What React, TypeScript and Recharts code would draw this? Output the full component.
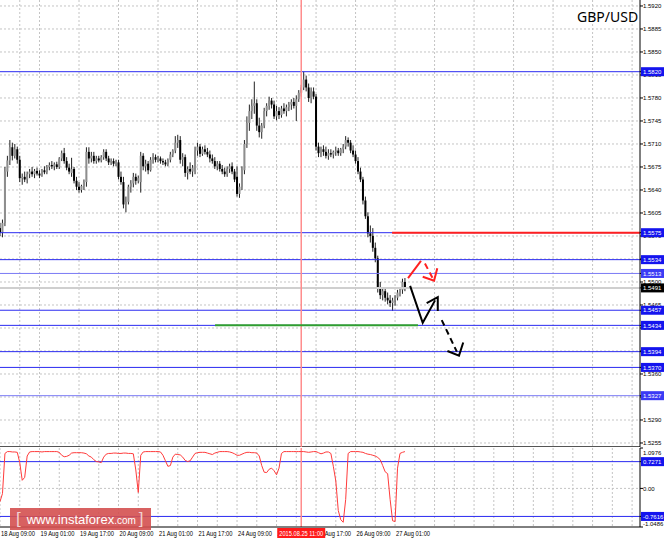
import React from 'react'
import { ComposedChart, Bar, Line, XAxis, YAxis, CartesianGrid, ReferenceLine } from 'recharts'

// hourly candles GBP/USD, 18 Aug 09:00 -> 27 Aug 05:00  [open, high, low, close]
const ohlc: [number, number, number, number][] = [
  [1.5582, 1.5590, 1.5570, 1.5575], [1.5575, 1.5595, 1.5568, 1.5590], [1.5590, 1.5675, 1.5585, 1.5668], [1.5668, 1.5692, 1.5660, 1.5685],
  [1.5685, 1.5716, 1.5678, 1.5705], [1.5705, 1.5712, 1.5685, 1.5692], [1.5692, 1.5710, 1.5688, 1.5702], [1.5702, 1.5706, 1.5680, 1.5686],
  [1.5686, 1.5692, 1.5652, 1.5658], [1.5658, 1.5665, 1.5648, 1.5660], [1.5660, 1.5668, 1.5652, 1.5656], [1.5656, 1.5668, 1.5650, 1.5664],
  [1.5664, 1.5672, 1.5658, 1.5668], [1.5668, 1.5675, 1.5660, 1.5664], [1.5664, 1.5672, 1.5658, 1.5669], [1.5669, 1.5674, 1.5662, 1.5665],
  [1.5665, 1.5670, 1.5658, 1.5662], [1.5662, 1.5672, 1.5660, 1.5670], [1.5670, 1.5676, 1.5664, 1.5667], [1.5667, 1.5678, 1.5664, 1.5675],
  [1.5675, 1.5682, 1.5670, 1.5678], [1.5678, 1.5684, 1.5672, 1.5676], [1.5676, 1.5682, 1.5670, 1.5679], [1.5679, 1.5683, 1.5672, 1.5675],
  [1.5675, 1.5690, 1.5672, 1.5688], [1.5688, 1.5700, 1.5684, 1.5696], [1.5696, 1.5704, 1.5680, 1.5684], [1.5684, 1.5690, 1.5670, 1.5674],
  [1.5674, 1.5680, 1.5664, 1.5668], [1.5666, 1.5689, 1.5660, 1.5672], [1.5672, 1.5675, 1.5650, 1.5654], [1.5654, 1.5660, 1.5640, 1.5645],
  [1.5645, 1.5652, 1.5636, 1.5640], [1.5640, 1.5648, 1.5636, 1.5646], [1.5646, 1.5656, 1.5640, 1.5652], [1.5652, 1.5705, 1.5645, 1.5698],
  [1.5698, 1.5705, 1.5680, 1.5688], [1.5688, 1.5698, 1.5682, 1.5692], [1.5692, 1.5698, 1.5680, 1.5684], [1.5684, 1.5692, 1.5680, 1.5688],
  [1.5688, 1.5692, 1.5682, 1.5685], [1.5685, 1.5693, 1.5682, 1.5690], [1.5690, 1.5702, 1.5686, 1.5698], [1.5698, 1.5702, 1.5684, 1.5688],
  [1.5688, 1.5692, 1.5678, 1.5682], [1.5682, 1.5688, 1.5678, 1.5684], [1.5684, 1.5688, 1.5676, 1.5680], [1.5680, 1.5686, 1.5676, 1.5682],
  [1.5682, 1.5686, 1.5656, 1.5660], [1.5660, 1.5668, 1.5648, 1.5652], [1.5652, 1.5660, 1.5612, 1.5618], [1.5618, 1.5630, 1.5606, 1.5622],
  [1.5622, 1.5648, 1.5618, 1.5645], [1.5645, 1.5655, 1.5636, 1.5650], [1.5650, 1.5666, 1.5644, 1.5660], [1.5660, 1.5665, 1.5648, 1.5654],
  [1.5654, 1.5662, 1.5650, 1.5658], [1.5652, 1.5698, 1.5636, 1.5692], [1.5692, 1.5696, 1.5670, 1.5676], [1.5676, 1.5686, 1.5668, 1.5680],
  [1.5680, 1.5684, 1.5664, 1.5670], [1.5670, 1.5690, 1.5668, 1.5686], [1.5686, 1.5696, 1.5680, 1.5690], [1.5690, 1.5694, 1.5682, 1.5686],
  [1.5686, 1.5692, 1.5682, 1.5688], [1.5688, 1.5691, 1.5680, 1.5684], [1.5684, 1.5688, 1.5678, 1.5682], [1.5682, 1.5686, 1.5676, 1.5679],
  [1.5679, 1.5688, 1.5676, 1.5686], [1.5686, 1.5698, 1.5682, 1.5694], [1.5694, 1.5702, 1.5690, 1.5700], [1.5700, 1.5722, 1.5696, 1.5712],
  [1.5712, 1.5724, 1.5704, 1.5716], [1.5716, 1.5722, 1.5680, 1.5686], [1.5686, 1.5696, 1.5676, 1.5690], [1.5690, 1.5694, 1.5660, 1.5666],
  [1.5666, 1.5676, 1.5656, 1.5672], [1.5672, 1.5682, 1.5664, 1.5668], [1.5668, 1.5678, 1.5660, 1.5674], [1.5668, 1.5706, 1.5664, 1.5700],
  [1.5700, 1.5712, 1.5692, 1.5706], [1.5706, 1.5710, 1.5690, 1.5695], [1.5695, 1.5706, 1.5692, 1.5702], [1.5702, 1.5708, 1.5694, 1.5698],
  [1.5698, 1.5704, 1.5690, 1.5694], [1.5694, 1.5700, 1.5682, 1.5688], [1.5688, 1.5694, 1.5680, 1.5684], [1.5684, 1.5690, 1.5672, 1.5676],
  [1.5676, 1.5684, 1.5670, 1.5680], [1.5680, 1.5684, 1.5668, 1.5672], [1.5672, 1.5678, 1.5664, 1.5668], [1.5668, 1.5674, 1.5660, 1.5664],
  [1.5664, 1.5676, 1.5660, 1.5672], [1.5672, 1.5680, 1.5666, 1.5676], [1.5676, 1.5682, 1.5664, 1.5668], [1.5668, 1.5672, 1.5652, 1.5656],
  [1.5660, 1.5676, 1.5630, 1.5634], [1.5634, 1.5650, 1.5628, 1.5645], [1.5645, 1.5676, 1.5640, 1.5670], [1.5670, 1.5716, 1.5664, 1.5710],
  [1.5710, 1.5752, 1.5704, 1.5742], [1.5742, 1.5770, 1.5730, 1.5760], [1.5760, 1.5778, 1.5748, 1.5768], [1.5768, 1.5805, 1.5756, 1.5772],
  [1.5772, 1.5778, 1.5730, 1.5738], [1.5738, 1.5750, 1.5720, 1.5728], [1.5728, 1.5742, 1.5718, 1.5738], [1.5738, 1.5765, 1.5734, 1.5760],
  [1.5760, 1.5772, 1.5752, 1.5768], [1.5768, 1.5782, 1.5762, 1.5776], [1.5776, 1.5780, 1.5764, 1.5770], [1.5770, 1.5776, 1.5748, 1.5752],
  [1.5752, 1.5768, 1.5746, 1.5760], [1.5760, 1.5766, 1.5748, 1.5754], [1.5754, 1.5768, 1.5750, 1.5764], [1.5764, 1.5772, 1.5756, 1.5760],
  [1.5760, 1.5770, 1.5752, 1.5766], [1.5766, 1.5774, 1.5760, 1.5770], [1.5770, 1.5778, 1.5762, 1.5774], [1.5774, 1.5780, 1.5764, 1.5768],
  [1.5768, 1.5784, 1.5745, 1.5778], [1.5778, 1.5792, 1.5774, 1.5788], [1.5788, 1.5800, 1.5782, 1.5796], [1.5796, 1.5820, 1.5792, 1.5808],
  [1.5808, 1.5814, 1.5790, 1.5796], [1.5796, 1.5802, 1.5774, 1.5780], [1.5780, 1.5796, 1.5772, 1.5790], [1.5790, 1.5796, 1.5778, 1.5782],
  [1.5782, 1.5786, 1.5700, 1.5706], [1.5706, 1.5712, 1.5690, 1.5696], [1.5696, 1.5706, 1.5690, 1.5702], [1.5702, 1.5708, 1.5692, 1.5698],
  [1.5698, 1.5706, 1.5688, 1.5692], [1.5692, 1.5702, 1.5686, 1.5696], [1.5696, 1.5702, 1.5690, 1.5694], [1.5694, 1.5700, 1.5688, 1.5698],
  [1.5698, 1.5706, 1.5692, 1.5700], [1.5700, 1.5704, 1.5692, 1.5696], [1.5696, 1.5704, 1.5692, 1.5702], [1.5702, 1.5710, 1.5696, 1.5706],
  [1.5706, 1.5722, 1.5702, 1.5716], [1.5716, 1.5720, 1.5706, 1.5712], [1.5712, 1.5716, 1.5696, 1.5700], [1.5700, 1.5708, 1.5690, 1.5694],
  [1.5694, 1.5700, 1.5680, 1.5684], [1.5684, 1.5690, 1.5664, 1.5668], [1.5668, 1.5674, 1.5652, 1.5656], [1.5656, 1.5660, 1.5618, 1.5624],
  [1.5624, 1.5630, 1.5596, 1.5600], [1.5600, 1.5606, 1.5568, 1.5574], [1.5574, 1.5586, 1.5560, 1.5570], [1.5570, 1.5582, 1.5546, 1.5552],
  [1.5552, 1.5560, 1.5530, 1.5536], [1.5536, 1.5540, 1.5484, 1.5490], [1.5490, 1.5500, 1.5474, 1.5480], [1.5480, 1.5492, 1.5472, 1.5486],
  [1.5486, 1.5490, 1.5470, 1.5476], [1.5476, 1.5484, 1.5466, 1.5472], [1.5472, 1.5480, 1.5462, 1.5468], [1.5468, 1.5476, 1.5456, 1.5472],
  [1.5472, 1.5480, 1.5464, 1.5476], [1.5476, 1.5488, 1.5472, 1.5484], [1.5484, 1.5492, 1.5478, 1.5488], [1.5488, 1.5505, 1.5482, 1.5500],
  [1.5500, 1.5506, 1.5486, 1.5491],
]

// oscillator in the lower window, one value per candle
const oscillator = [
  -0.36, -0.14, 0.95, 1.0, 1.0, 0.99, 0.99, 0.98, 0.7, 0.22, 0.3, 0.88, 0.99, 1.0, 1.0, 1.0,
  1.0, 0.99, 1.0, 1.0, 1.0, 1.0, 1.0, 1.0, 0.98, 0.9, 0.86, 0.87, 0.9, 0.96, 0.97, 0.97,
  0.97, 0.97, 0.96, 0.94, 0.88, 0.85, 0.78, 0.73, 0.72, 0.7, 0.85, 0.93, 0.95, 0.95, 0.96, 0.96,
  0.95, 0.95, 0.96, 0.96, 0.95, 0.95, 0.94, 0.5, -0.11, 0.9, 0.99, 1.0, 1.0, 1.0, 1.0, 1.0,
  1.0, 0.99, 0.9, 0.75, 0.6, 0.62, 0.85, 0.93, 0.92, 0.91, 0.85, 0.76, 0.73, 0.75, 0.85, 0.95,
  0.97, 0.98, 0.98, 0.98, 0.96, 0.94, 0.92, 0.96, 0.98, 1.0, 1.0, 1.0, 1.0, 0.99, 0.97, 0.94,
  0.9, 0.9, 0.93, 0.96, 0.98, 0.98, 0.97, 0.97, 0.96, 0.88, 0.62, 0.44, 0.43, 0.52, 0.55, 0.48,
  0.37, 0.55, 0.95, 1.0, 1.0, 1.0, 1.0, 1.0, 1.0, 1.0, 1.0, 1.0, 0.99, 0.98, 0.99, 1.0,
  1.0, 0.97, 0.94, 0.96, 0.99, 0.99, 0.95, 0.6, 0.2, -0.6, -0.85, -0.92, -0.3, 0.95, 1.0, 1.0,
  1.0, 1.0, 0.99, 0.98, 0.95, 0.93, 0.92, 0.9, 0.88, 0.84, 0.78, 0.62, 0.45, 0.4, -0.3, -0.88,
  -0.9, 0.55, 0.95, 0.98, 1.0,
]

const timeLabels = ['18 Aug 09:00', '19 Aug 01:00', '19 Aug 17:00', '20 Aug 09:00', '21 Aug 01:00', '21 Aug 17:00',
  '24 Aug 09:00', '25 Aug 01:00', '25 Aug 17:00', '26 Aug 09:00', '27 Aug 01:00']
const labelTicks = [0, 16, 32, 48, 64, 80, 96, 112, 128, 144, 160]
const gridTicks = [0, 8, 16, 24, 32, 40, 48, 56, 64, 72, 80, 88, 96, 104, 112, 120, 128, 136, 144, 152, 160,
  168, 176, 184, 192, 200, 208, 216, 224, 232, 240, 248, 256]
const markerT = 122
const markerLabel = '2015.08.25 11:00'

const priceTicks = [1.5920, 1.5885, 1.5850, 1.5815, 1.5780, 1.5745, 1.5710, 1.5675, 1.5640, 1.5605, 1.5570,
  1.5535, 1.5500, 1.5465, 1.5430, 1.5395, 1.5360, 1.5325, 1.5290, 1.5255]
const blueLevels = [1.5820, 1.5575, 1.5534, 1.5513, 1.5457, 1.5434, 1.5394, 1.5370, 1.5327]
const paleLevels = [1.5513, 1.5327]
const lastPrice = 1.5491

const oscTicks = [1.0976, 0, -1.0486]
const oscLevels = [0.7271, -0.7616]

// drawn objects, in (bar, price)
const greenLine = [{ t: 87.1, p: 1.5434 }, { t: 169.3, p: 1.5434 }]
const redLevel = [{ t: 158.8, p: 1.5575 }, { t: 259.2, p: 1.5575 }]
const redUp = [{ t: 165.25, p: 1.5506 }, { t: 170.5, p: 1.5532 }]
const redDash = [{ t: 172.1, p: 1.5528 }, { t: 175.5, p: 1.5504 }]
const redHead = [{ t: 171.2, p: 1.5508 }, { t: 175.8, p: 1.5502 }, { t: 177.1, p: 1.5521 }]
const blackZig = [{ t: 166.1, p: 1.5494 }, { t: 171.2, p: 1.5438 }, { t: 176.2, p: 1.5472 }]
const blackHead = [{ t: 172.8, p: 1.5468 }, { t: 177.3, p: 1.5477 }, { t: 177.3, p: 1.5456 }]
const blackDash = [{ t: 178.9, p: 1.5442 }, { t: 185.0, p: 1.5394 }]
const blackDashHead = [{ t: 181.2, p: 1.5395 }, { t: 185.9, p: 1.5388 }, { t: 187.6, p: 1.5408 }]

const candles = ohlc.map(([open, high, low, close], t) => ({ t, open, high, low, close }))
const oscData = oscillator.map((v, t) => ({ t, v }))

const xDomain: [number, number] = [0, 259.2]
const small = '"Liberation Sans", Arial, sans-serif'
const BLUE = '#2a2af0'

function Candle(props: any) {
  const { x, y, width, height, payload } = props
  if (!payload) return null
  const { open, high, low, close } = payload
  const top = Math.min(y, y + height)
  const bottom = Math.max(y, y + height)
  const k = high === low ? 0 : (bottom - top) / (high - low)
  const yOf = (p: number) => top + (high - p) * k
  const cx = x + width / 2
  const bodyTop = yOf(Math.max(open, close))
  const bodyH = Math.max(1, yOf(Math.min(open, close)) - bodyTop)
  return (
    <g>
      <line x1={cx} x2={cx} y1={top} y2={bottom} stroke="#222" strokeWidth={1} />
      <rect x={cx - 1} y={bodyTop} width={2} height={bodyH} fill={close >= open ? '#8e8e8e' : '#000'} />
    </g>
  )
}

function PriceTick(props: any) {
  const { x, y, payload } = props
  const v = payload.value
  const txt = v.toFixed(4)
  if (v === lastPrice || blueLevels.includes(v)) {
    const bg = v === lastPrice ? '#000' : paleLevels.includes(v) ? '#3b3bf5' : '#1414ee'
    return (
      <g>
        <rect x={x - 2} y={y - 4.5} width={23} height={9} fill={bg} />
        <text x={x} y={y + 2.2} fontSize={6} fontFamily={small} fill="#fff">{txt}</text>
      </g>
    )
  }
  return <text x={x} y={y + 2.2} fontSize={6} fontFamily={small} fill="#000">{txt}</text>
}

function OscTick(props: any) {
  const { x, y, payload } = props
  const v = payload.value
  const txt = v === 0 ? '0.00' : v.toFixed(4)
  if (oscLevels.includes(v)) {
    return (
      <g>
        <rect x={x - 2} y={y - 4.5} width={23} height={9} fill="#1414ee" />
        <text x={x} y={y + 2.2} fontSize={6} fontFamily={small} fill="#fff">{txt}</text>
      </g>
    )
  }
  const shift = v === oscTicks[0] ? 4.5 : v === oscTicks[2] ? -3 : 0
  return <text x={x} y={y + 2.2 + shift} fontSize={6} fontFamily={small} fill="#000">{txt}</text>
}

function TimeTick(props: any) {
  const { x, y, payload } = props
  const v = payload.value
  if (v === markerT) {
    return (
      <g>
        <rect x={x - 24} y={y + 1} width={48} height={10} fill="#ff1a1a" />
        <text x={x - 22} y={y + 8.5} fontSize={7} fontFamily={small} fill="#fff"
          textLength={44} lengthAdjust="spacingAndGlyphs">{markerLabel}</text>
      </g>
    )
  }
  const i = labelTicks.indexOf(v)
  if (i < 0) return null
  return (
    <text x={x + 1} y={y + 8.5} fontSize={7} fontFamily={small} fill="#000"
      textLength={34} lengthAdjust="spacingAndGlyphs">{timeLabels[i]}</text>
  )
}

function drawing(data: { t: number; p: number }[], color: string, dashed = false, width = 2) {
  return (
    <Line data={data} dataKey="p" type="linear" stroke={color} strokeWidth={width}
      strokeDasharray={dashed ? '6 4' : undefined} dot={false} activeDot={false} isAnimationActive={false} />
  )
}

export default function App() {
  return (
    <div style={{ position: 'absolute', left: 0, top: 0, width: 664, height: 539, background: '#fff', overflow: 'hidden' }}>
      <div style={{ position: 'absolute', left: 0, top: 0 }}>
        <ComposedChart width={664} height={447} data={candles} margin={{ top: 0, right: 0, bottom: 0, left: 0 }}>
          <CartesianGrid stroke="#c4c4c4" strokeDasharray="2 2" horizontalValues={priceTicks} verticalValues={gridTicks} />
          <XAxis type="number" dataKey="t" domain={xDomain} ticks={gridTicks} allowDataOverflow hide />
          <YAxis orientation="right" width={24} domain={[1.52489, 1.59291]} allowDataOverflow
            ticks={[...priceTicks, ...blueLevels, lastPrice]} interval={0} tick={PriceTick}
            tickSize={3} tickMargin={0} axisLine={{ stroke: '#000' }} tickLine={{ stroke: '#000' }} />
          {blueLevels.map((v) => (
            <ReferenceLine key={v} y={v} stroke={paleLevels.includes(v) ? '#7a7af5' : BLUE} strokeWidth={1} />
          ))}
          <ReferenceLine y={lastPrice} stroke="#cfcfcf" strokeWidth={2} />
          <ReferenceLine y={1.52489} stroke="#555" strokeWidth={2} />
          <ReferenceLine x={markerT} stroke="#ff8c8c" strokeWidth={1.5} />
          <Bar dataKey={(d: any) => [d.low, d.high]} barSize={2} shape={Candle} isAnimationActive={false} />
          {drawing(greenLine, '#2f9e2f')}
          {drawing(redLevel, '#ff2020')}
          {drawing(redUp, '#ff2020')}
          {drawing(redDash, '#ff2020', true)}
          {drawing(redHead, '#ff2020')}
          {drawing(blackZig, '#000')}
          {drawing(blackHead, '#000')}
          {drawing(blackDash, '#000', true)}
          {drawing(blackDashHead, '#000')}
        </ComposedChart>
      </div>
      <div style={{ position: 'absolute', left: 0, top: 447 }}>
        <ComposedChart width={664} height={92} data={oscData} margin={{ top: 1, right: 0, bottom: 0, left: 0 }}>
          <CartesianGrid stroke="#c4c4c4" strokeDasharray="2 2" horizontalValues={[0]} verticalValues={gridTicks} />
          <XAxis type="number" dataKey="t" domain={xDomain} allowDataOverflow ticks={[...gridTicks, markerT]}
            interval={0} tick={TimeTick} tickLine={false} tickSize={0} tickMargin={0} height={12}
            axisLine={{ stroke: '#000' }} />
          <YAxis orientation="right" width={24} domain={[-1.0486, 1.0976]} allowDataOverflow
            ticks={[...oscTicks, ...oscLevels]} interval={0} tick={OscTick}
            tickSize={3} tickMargin={0} axisLine={{ stroke: '#000' }} tickLine={{ stroke: '#000' }} />
          {oscLevels.map((v) => (
            <ReferenceLine key={v} y={v} stroke={BLUE} strokeWidth={1} />
          ))}
          <ReferenceLine x={markerT} stroke="#ff8c8c" strokeWidth={1.5} />
          <Line dataKey="v" type="linear" stroke="#ff3b3b" strokeWidth={1} dot={false} activeDot={false} isAnimationActive={false} />
        </ComposedChart>
      </div>
      <div style={{ position: 'absolute', left: 577, top: 7, fontFamily: '"Noto Sans", sans-serif', fontSize: 14, color: '#000' }}>
        GBP/USD
      </div>
      <div style={{
        position: 'absolute', left: 10, top: 508, width: 141, height: 22, background: 'rgba(212, 80, 80, 0.9)',
        color: '#fff', fontFamily: small, display: 'flex', alignItems: 'center', whiteSpace: 'nowrap',
      }}>
        <span style={{ fontSize: 17, marginLeft: 6, color: '#f2d2d2' }}>[</span>
        <span style={{ fontSize: 13, marginLeft: 6 }}>www.instaforex</span>
        <span style={{ fontSize: 10, marginTop: 2 }}>.com</span>
        <span style={{ fontSize: 17, marginLeft: 3, color: '#f2d2d2' }}>]</span>
      </div>
    </div>
  )
}
